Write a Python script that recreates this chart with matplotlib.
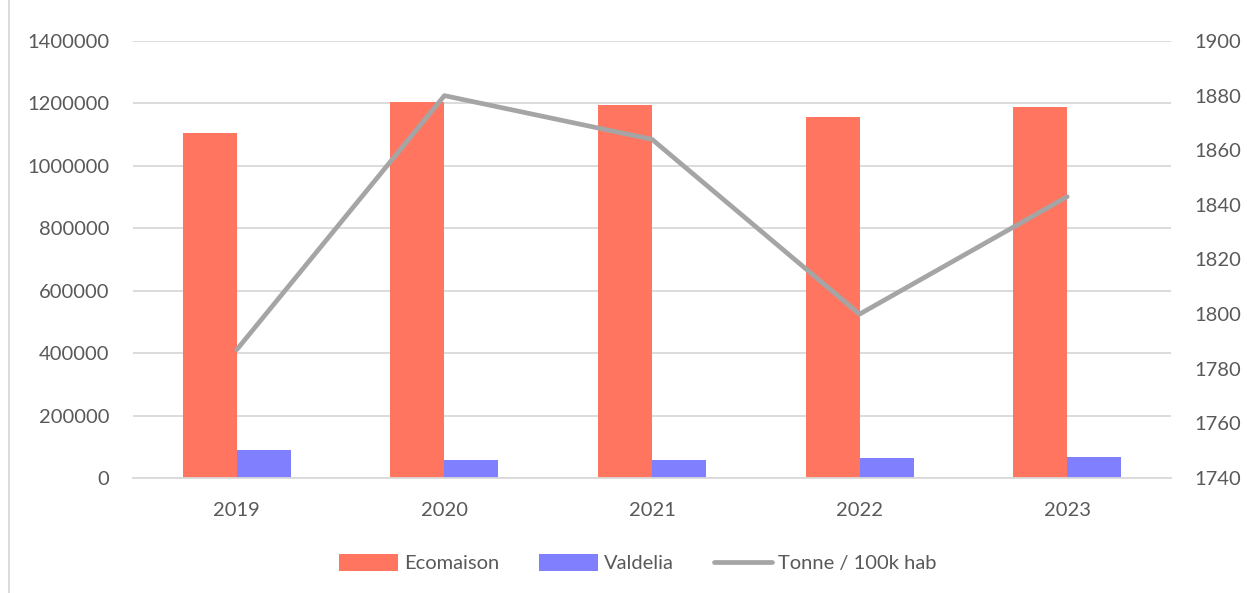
import matplotlib.pyplot as plt
import numpy as np
from matplotlib.lines import Line2D

plt.rcParams["font.family"] = ["Lato", "DejaVu Sans"]

years = ["2019", "2020", "2021", "2022", "2023"]
ecomaison = [1105000, 1205000, 1196000, 1158000, 1187000]
valdelia = [91000, 59000, 59000, 63000, 66000]
tonne_100k = [1787, 1880, 1864, 1800, 1843]

text_color = "#595959"
grid_color = "#D9D9D9"
fs = 14.5

fig = plt.figure(figsize=(12.47, 5.93), dpi=100)
ax = fig.add_axes([133 / 1247, 1 - 478 / 593, 1038 / 1247, 437 / 593])
ax2 = ax.twinx()

x = np.arange(len(years))
w = 0.26
ax.bar(x - w / 2, ecomaison, w, color="#FF7560", label="Ecomaison", zorder=2)
ax.bar(x + w / 2, valdelia, w, color="#8080FF", label="Valdelia", zorder=2)
ax2.plot(x, tonne_100k, color="#A5A5A5", lw=3.4, solid_capstyle="round",
         solid_joinstyle="round", label="Tonne / 100k hab")

ax.set_xlim(-0.5, len(years) - 0.5)
ax.set_ylim(0, 1400000)
ax.set_yticks(np.arange(0, 1400001, 200000))
ax.set_yticklabels([str(v) for v in range(0, 1400001, 200000)])
ax2.set_ylim(1740, 1900)
ax2.set_yticks(np.arange(1740, 1901, 20))

ax.set_xticks(x)
ax.set_xticklabels(years)
ax.yaxis.grid(True, color=grid_color, lw=1.3, zorder=0)
ax.set_axisbelow(True)

for a in (ax, ax2):
    for s in a.spines.values():
        s.set_visible(False)
    a.tick_params(colors=text_color, labelsize=fs, length=0)
ax.tick_params(axis="y", pad=17)
ax2.tick_params(axis="y", pad=17)
ax.tick_params(axis="x", pad=17)
ax.spines["bottom"].set_visible(True)
ax.spines["bottom"].set_color(grid_color)
ax.spines["bottom"].set_linewidth(1.3)

h1, l1 = ax.get_legend_handles_labels()
h2, l2 = ax2.get_legend_handles_labels()
fig.legend(h1 + h2, l1 + l2, loc="center", bbox_to_anchor=(638 / 1247, 1 - 563 / 593),
           ncol=3, frameon=False, fontsize=fs, labelcolor=text_color,
           handlelength=2.9, handleheight=0.9, handletextpad=0.3, columnspacing=2.0)

fig.add_artist(Line2D([8.5 / 1247, 8.5 / 1247], [0, 1], color=grid_color, lw=1.3,
                      transform=fig.transFigure))

fig.savefig("out.png", dpi=100)
